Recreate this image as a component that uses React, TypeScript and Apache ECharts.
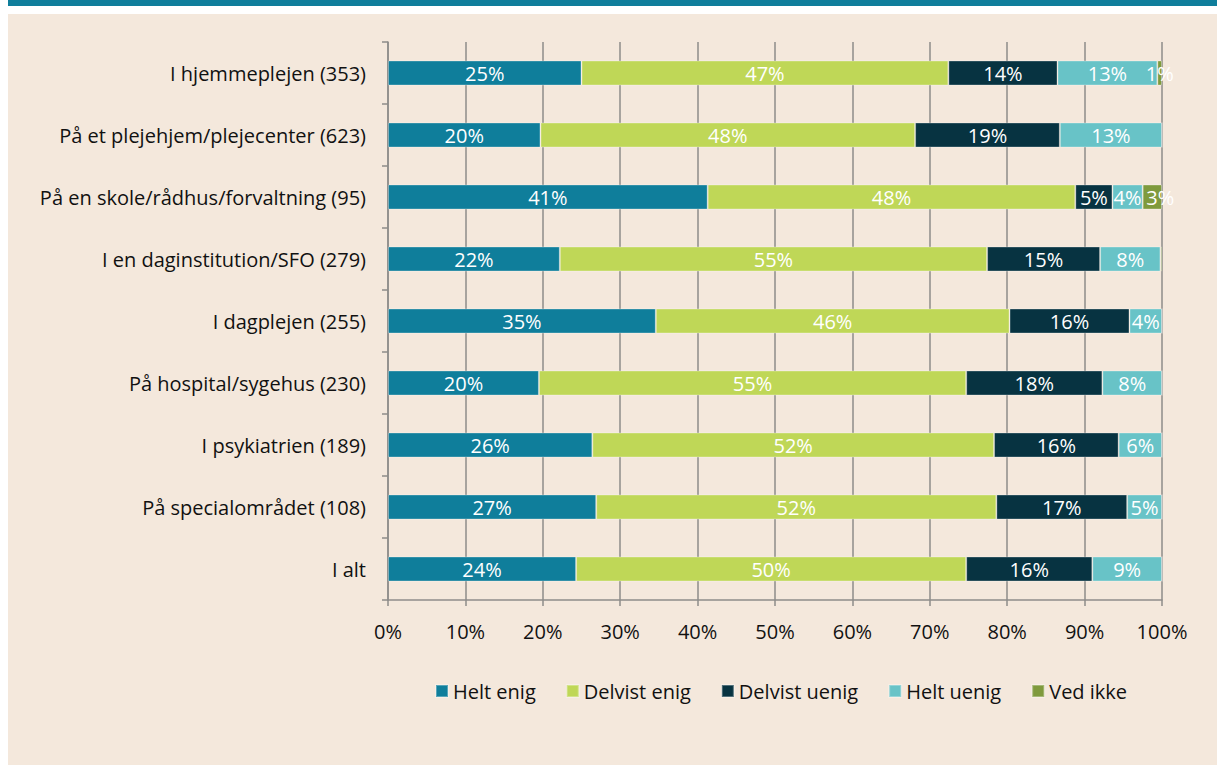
import React, { useEffect, useRef } from "react";
import * as echarts from "echarts";

const categories = [
  "I hjemmeplejen (353)",
  "På et plejehjem/plejecenter (623)",
  "På en skole/rådhus/forvaltning (95)",
  "I en daginstitution/SFO (279)",
  "I dagplejen (255)",
  "På hospital/sygehus (230)",
  "I psykiatrien (189)",
  "På specialområdet (108)",
  "I alt",
];

const seriesNames = ["Helt enig", "Delvist enig", "Delvist uenig", "Helt uenig", "Ved ikke"];

const heltEnig = [25.0, 19.7, 41.3, 22.2, 34.6, 19.5, 26.4, 26.9, 24.3];
const delvistEnig = [47.4, 48.4, 47.5, 55.2, 45.7, 55.2, 51.9, 51.7, 50.4];
const delvistUenig = [14.1, 18.7, 4.8, 14.6, 15.5, 17.6, 16.1, 16.9, 16.3];
const heltUenig = [12.9, 13.2, 3.9, 7.8, 4.2, 7.7, 5.6, 4.5, 9.0];
const vedIkke = [0.6, 0, 2.5, 0.2, 0, 0, 0, 0, 0];

const xTicks = [0, 10, 20, 30, 40, 50, 60, 70, 80, 90, 100];

const colors = ["#0f7e9b", "#bfd757", "#073341", "#68c3c7", "#7f9a3d"];

const FONT = "'Open Sans', 'Noto Sans', sans-serif";
const FS = 20;

export default function App() {
  const ref = useRef<HTMLDivElement>(null);

  useEffect(() => {
    if (!ref.current) return;
    const chart = echarts.init(ref.current, undefined, { renderer: "svg" });
    const values = [heltEnig, delvistEnig, delvistUenig, heltUenig, vedIkke];
    const gridColor = "#8e8c8a";
    chart.setOption({
      animation: false,
      backgroundColor: "#ffffff",
      textStyle: { fontFamily: FONT },
      graphic: [
        { type: "rect", shape: { x: 8, y: 0, width: 1209, height: 6 }, style: { fill: "#0f7e9b" }, z: -10 },
        { type: "rect", shape: { x: 8, y: 14, width: 1209, height: 751 }, style: { fill: "#f4e8dc" }, z: -10 },
      ],
      grid: { left: 388, right: 55, top: 42, bottom: 167 },
      legend: {
        data: seriesNames,
        left: 430,
        top: 676,
        icon: "rect",
        itemWidth: 12,
        itemHeight: 12,
        itemGap: 30,
        textStyle: { fontSize: FS, color: "#111", fontFamily: FONT },
      },
      xAxis: {
        type: "value",
        min: xTicks[0],
        max: xTicks[xTicks.length - 1],
        interval: 10,
        axisLine: { show: true, lineStyle: { color: gridColor, width: 1.5 } },
        axisTick: { show: true, length: 6, lineStyle: { color: gridColor, width: 1.5 } },
        splitLine: { show: true, lineStyle: { color: gridColor, width: 1.5 } },
        axisLabel: { formatter: "{value}%", fontSize: FS, color: "#111", margin: 21, fontFamily: FONT },
      },
      yAxis: {
        type: "category",
        data: categories,
        inverse: true,
        axisLine: { show: true, lineStyle: { color: gridColor, width: 1.5 } },
        axisTick: { show: true, length: 6, alignWithLabel: false, lineStyle: { color: gridColor, width: 1.5 } },
        axisLabel: { fontSize: FS, color: "#111", margin: 22, fontFamily: FONT },
      },
      series: seriesNames.map((name, i) => ({
        name,
        type: "bar",
        stack: "total",
        data: values[i].map((v) =>
          i === 4 && v >= 2 ? { value: v, label: { offset: [8, 0] } } : v
        ),
        barWidth: 25,
        itemStyle: { color: colors[i], borderColor: "rgba(255,255,255,0.3)", borderWidth: 1 },
        label: {
          show: true,
          position: "inside",
          color: "#ffffff",
          fontSize: FS,
          fontFamily: FONT,
          formatter: (p: any) => (p.value >= 0.5 ? Math.round(p.value) + "%" : ""),
        },
      })),
    });
    return () => chart.dispose();
  }, []);

  return (
    <div
      ref={ref}
      style={{ position: "fixed", left: 0, top: 0, width: 1217, height: 767 }}
    />
  );
}
